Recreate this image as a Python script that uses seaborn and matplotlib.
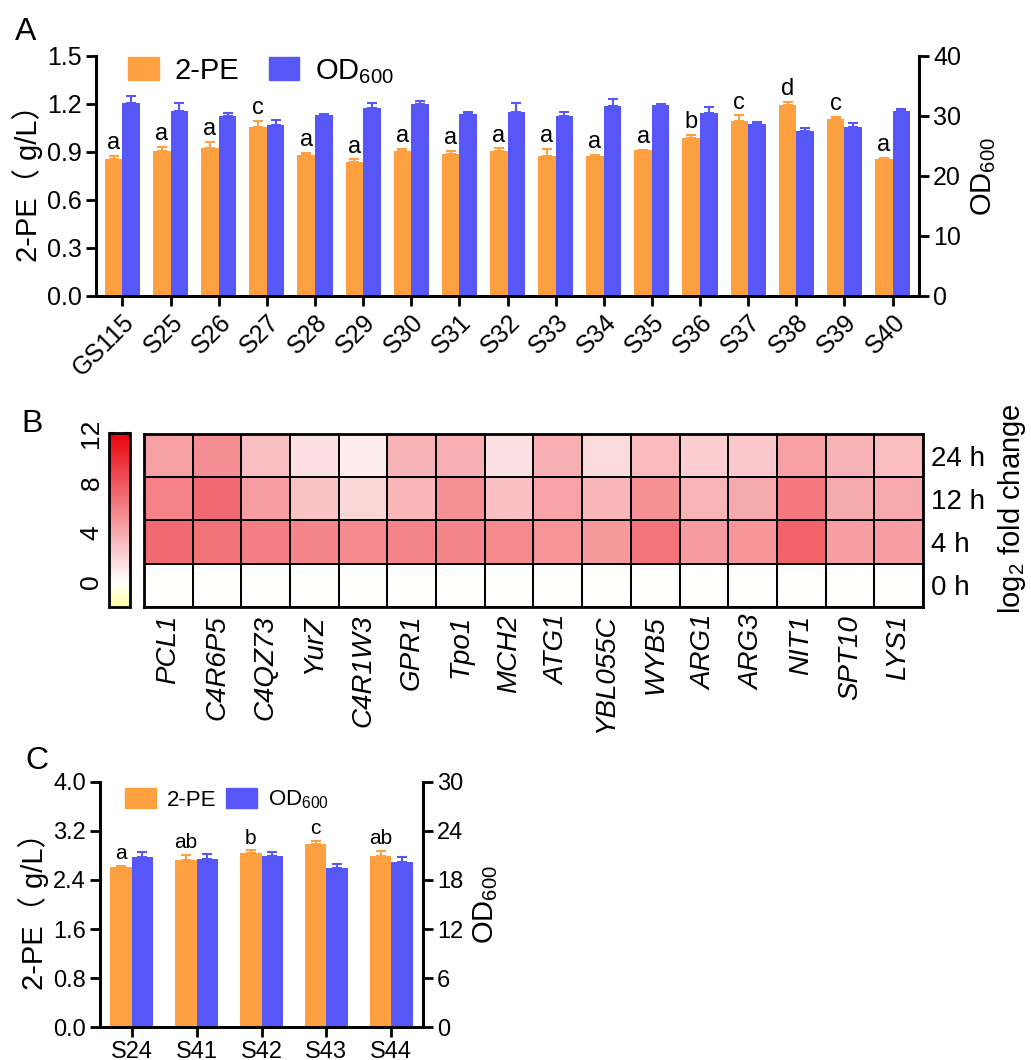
import numpy as np
import pandas as pd
import matplotlib
matplotlib.use('Agg')
import matplotlib.pyplot as plt
import seaborn as sns
from matplotlib.colors import LinearSegmentedColormap
from matplotlib.patches import Patch

sns.set_style('ticks')
plt.rcParams['font.family'] = ['Liberation Sans', 'Noto Sans CJK SC']
plt.rcParams['mathtext.fontset'] = 'custom'
plt.rcParams['mathtext.rm'] = 'Liberation Sans'
plt.rcParams['axes.linewidth'] = 2
plt.rcParams['axes.edgecolor'] = 'black'
plt.rcParams['text.color'] = 'black'
plt.rcParams['axes.labelcolor'] = 'black'
plt.rcParams['xtick.color'] = 'black'
plt.rcParams['ytick.color'] = 'black'

ORANGE = '#FFA040'
BLUE = '#5757F7'

# ---- Panel A data ----
strains_a = ['GS115', 'S25', 'S26', 'S27', 'S28', 'S29', 'S30', 'S31', 'S32',
             'S33', 'S34', 'S35', 'S36', 'S37', 'S38', 'S39', 'S40']
pe_a = [0.857, 0.905, 0.926, 1.057, 0.884, 0.838, 0.905, 0.886, 0.903,
        0.876, 0.876, 0.911, 0.988, 1.092, 1.194, 1.103, 0.853]
pe_a_err = [0.017, 0.025, 0.037, 0.037, 0.011, 0.015, 0.013, 0.021, 0.019,
            0.043, 0.004, 0.004, 0.017, 0.036, 0.019, 0.017, 0.007]
od_a = [32.1, 30.9, 29.96, 28.46, 30.2, 31.3, 31.96, 30.4, 30.6,
        29.96, 31.6, 31.9, 30.5, 28.6, 27.5, 28.2, 30.8]
od_a_err = [1.2, 1.2, 0.6, 0.8, 0.05, 0.9, 0.5, 0.3, 1.6,
            0.7, 1.2, 0.1, 1.0, 0.4, 0.5, 0.6, 0.4]
letters_a = ['a', 'a', 'a', 'c', 'a', 'a', 'a', 'a', 'a',
             'a', 'a', 'a', 'b', 'c', 'd', 'c', 'a']

# ---- Panel B data (log2 fold change) ----
genes = ['PCL1', 'C4R6P5', 'C4QZ73', 'YurZ', 'C4R1W3', 'GPR1', 'Tpo1', 'MCH2',
         'ATG1', 'YBL055C', 'WYB5', 'ARG1', 'ARG3', 'NIT1', 'SPT10', 'LYS1']
times = ['24 h', '12 h', '4 h', '0 h']
fc_24h = [4.5, 5.3, 3.0, 1.55, 0.95, 3.6, 3.7, 1.4, 3.7, 1.7, 3.2, 2.3, 2.6, 4.4, 3.6, 3.1]
fc_12h = [5.9, 7.0, 4.6, 2.9, 1.9, 3.4, 5.2, 3.0, 4.3, 3.4, 5.2, 3.5, 4.0, 6.3, 4.0, 4.1]
fc_4h = [7.0, 6.6, 6.0, 5.7, 5.6, 5.8, 5.7, 5.6, 5.0, 4.8, 6.5, 4.7, 4.9, 7.4, 4.6, 4.6]
fc_0h = [0.0] * 16

# ---- Panel C data ----
strains_c = ['S24', 'S41', 'S42', 'S43', 'S44']
pe_c = [2.61, 2.73, 2.84, 2.98, 2.79]
pe_c_err = [0.02, 0.08, 0.05, 0.06, 0.09]
od_c = [20.8, 20.6, 20.95, 19.5, 20.2]
od_c_err = [0.6, 0.6, 0.45, 0.5, 0.6]
letters_c = ['a', 'ab', 'b', 'c', 'ab']

series = ['2-PE', 'OD600']
palette = {'2-PE': ORANGE, 'OD600': BLUE}


def long_df(strains, vals, which):
    n = len(strains)
    other = [np.nan] * n
    v = list(vals) + other if which == '2-PE' else other + list(vals)
    return pd.DataFrame({'strain': list(strains) * 2,
                         'series': ['2-PE'] * n + ['OD600'] * n,
                         'val': v})


def bars_with_err(ax, df, strains, err, color, width):
    sns.barplot(data=df, x='strain', y='val', hue='series', hue_order=series,
                order=strains, palette=palette, width=width, saturation=1,
                errorbar=None, legend=False, ax=ax, linewidth=0)
    bars = [p for p in ax.patches if np.isfinite(p.get_height()) and p.get_height() > 0]
    xs = [b.get_x() + b.get_width() / 2 for b in bars]
    hs = [b.get_height() for b in bars]
    ax.errorbar(xs, hs, yerr=[np.zeros(len(err)), err], fmt='none', ecolor=color,
                elinewidth=1.5, capsize=3.6, capthick=1.5, zorder=3)
    return xs, hs


def dual_panel(ax, strains, pe, pe_err, od, od_err, letters, width, xpad, ylim_l, ticks_l,
               ylim_r, ticks_r, fs_tick, fs_let, fs_lab, let_off):
    ax2 = ax.twinx()
    xs, hs = bars_with_err(ax, long_df(strains, pe, '2-PE'), strains, pe_err, ORANGE, width)
    bars_with_err(ax2, long_df(strains, od, 'OD600'), strains, od_err, BLUE, width)
    for x, h, e, t in zip(xs, hs, pe_err, letters):
        ax.text(x, h + e + let_off, t, ha='center', va='bottom', fontsize=fs_let)
    ax.set_ylim(*ylim_l)
    ax.set_yticks(ticks_l)
    ax.set_yticklabels([f'{t:.1f}' for t in ticks_l])
    ax2.set_ylim(*ylim_r)
    ax2.set_yticks(ticks_r)
    ax.set_xlim(-xpad, len(strains) - 1 + xpad)
    for a in (ax, ax2):
        a.spines['top'].set_visible(False)
        a.set_xlabel('')
        a.tick_params(direction='out', length=7, width=2, labelsize=fs_tick, pad=3)
    ax.set_ylabel('2-PE（ g/L）', fontsize=fs_lab, labelpad=3)
    ax2.set_ylabel(r'OD$_{\mathrm{600}}$', fontsize=fs_lab, labelpad=6)
    return ax2


fig = plt.figure(figsize=(10.31, 10.60), dpi=100)

# ---------------- Panel A ----------------
axA = fig.add_axes([0.0931, 0.7208, 0.7983, 0.2264])
dual_panel(axA, strains_a, pe_a, pe_a_err, od_a, od_a_err, letters_a, 0.73, 0.55,
           (0, 1.5), [0, 0.3, 0.6, 0.9, 1.2, 1.5], (0, 40), [0, 10, 20, 30, 40],
           18, 17, 21, 0.012)
plt.setp(axA.get_xticklabels(), rotation=45, ha='right', rotation_mode='anchor')
axA.legend(handles=[Patch(color=ORANGE), Patch(color=BLUE)],
           labels=['2-PE', r'OD$_{\mathrm{600}}$'], loc='upper left',
           bbox_to_anchor=(0.025, 1.045), ncol=2, frameon=False, fontsize=21,
           handlelength=1.05, handleheight=0.85, handletextpad=0.55, columnspacing=1.0,
           borderaxespad=0)

# ---------------- Panel B ----------------
axB = fig.add_axes([0.1397, 0.4277, 0.7555, 0.1626])
cax = fig.add_axes([0.1057, 0.4274, 0.0204, 0.1641])
hm = pd.DataFrame([fc_24h, fc_12h, fc_4h, fc_0h], index=times, columns=genes)
cmap = LinearSegmentedColormap.from_list(
    'yr', [(0.0, '#FFFFA0'), (2 / 14, '#FFFFFF'), (1.0, '#E8000B')])
sns.heatmap(hm, ax=axB, cmap=cmap, vmin=-2, vmax=12, cbar_ax=cax,
            linewidths=1.3, linecolor='black', xticklabels=True, yticklabels=True)
axB.yaxis.tick_right()
axB.tick_params(length=0, labelsize=20, pad=6)
plt.setp(axB.get_yticklabels(), rotation=0)
plt.setp(axB.get_xticklabels(), rotation=90, style='italic', ha='center', va='top')
for s in axB.spines.values():
    s.set_visible(True)
    s.set_linewidth(2)
cbar = axB.collections[0].colorbar
cbar.set_ticks([0, 4, 8, 12])
cbar.outline.set_linewidth(2)
cax.yaxis.set_ticks_position('both')
cax.tick_params(direction='in', length=4, width=1.5, labelsize=19,
                labelleft=True, labelright=False, pad=4)
plt.setp(cax.get_yticklabels(), rotation=90, va='center')
fig.text(0.982, 0.52, r'log$_{\mathrm{2}}$ fold change', rotation=90,
         ha='center', va='center', fontsize=21)

# ---------------- Panel C ----------------
axC = fig.add_axes([0.0970, 0.0311, 0.3133, 0.2312])
dual_panel(axC, strains_c, pe_c, pe_c_err, od_c, od_c_err, letters_c, 0.66, 0.49,
           (0, 4.0), [0, 0.8, 1.6, 2.4, 3.2, 4.0], (0, 30), [0, 6, 12, 18, 24, 30],
           17, 15, 21, 0.04)
axC.legend(handles=[Patch(color=ORANGE), Patch(color=BLUE)],
           labels=['2-PE', r'OD$_{\mathrm{600}}$'], loc='upper left',
           bbox_to_anchor=(0.05, 1.01), ncol=2, frameon=False, fontsize=16,
           handlelength=1.4, handleheight=0.95, handletextpad=0.5, columnspacing=0.4,
           borderaxespad=0)

# panel letters
fig.text(15 / 1031, 1 - 40 / 1060, 'A', fontsize=23, va='baseline')
fig.text(21 / 1031, 1 - 432 / 1060, 'B', fontsize=23, va='baseline')
fig.text(25 / 1031, 1 - 769 / 1060, 'C', fontsize=23, va='baseline')

fig.savefig('out.png', dpi=100)
